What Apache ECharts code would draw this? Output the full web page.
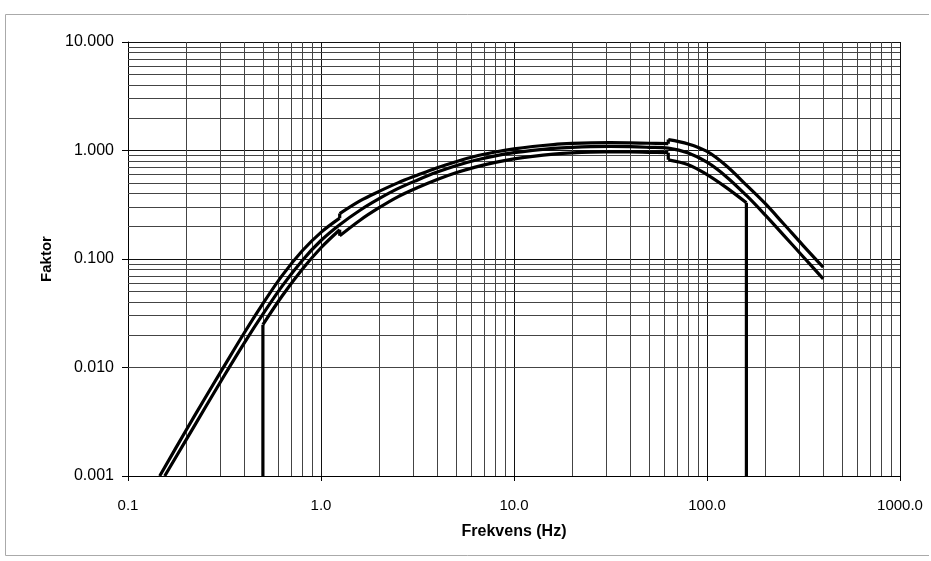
<!DOCTYPE html>
<html>
<head>
<meta charset="utf-8">
<script src="https://cdn.jsdelivr.net/npm/echarts@6/dist/echarts.min.js"></script>
<style>
  html, body { margin: 0; padding: 0; background: #fff; }
  #chart { width: 931px; height: 561px; }
</style>
</head>
<body>
<div id="chart"></div>
<script>
// upper tolerance curve, three pieces (steps at 1.25 Hz and 63 Hz)
const upperLow = [[0.146, 0.001], [0.2, 0.00264], [0.25, 0.00518], [0.315, 0.0103], [0.4, 0.0208],
  [0.5, 0.0388], [0.63, 0.0706], [0.8, 0.119], [1.0, 0.176], [1.25, 0.238]]
const upperMid = [[1.25, 0.262], [1.6, 0.345], [2.0, 0.42], [2.5, 0.503], [3.15, 0.592], [4, 0.695],
  [5, 0.789], [6.3, 0.886], [8, 0.969], [10, 1.036], [12.5, 1.089], [16, 1.134], [20, 1.161],
  [25, 1.178], [31.5, 1.183], [40, 1.177], [50, 1.166], [63, 1.155]]
const upperHigh = [[63, 1.26], [80, 1.15], [100, 0.98], [125, 0.73], [160, 0.48], [200, 0.325],
  [250, 0.21], [315, 0.133], [400, 0.084]]

// nominal curve
const nominal = [[0.155, 0.001], [0.2, 0.00215], [0.25, 0.00421], [0.315, 0.0084], [0.4, 0.0168],
  [0.5, 0.031], [0.63, 0.0565], [0.8, 0.097], [1.0, 0.148], [1.25, 0.207], [1.6, 0.283], [2.0, 0.36],
  [2.5, 0.445], [3.15, 0.533], [4, 0.632], [5, 0.724], [6.3, 0.813], [8, 0.893], [10, 0.955],
  [12.5, 1.004], [16, 1.045], [20, 1.07], [25, 1.086], [31.5, 1.09], [40, 1.085], [50, 1.07],
  [63, 1.05], [80, 0.95], [100, 0.78], [125, 0.58], [160, 0.385], [200, 0.255], [250, 0.165],
  [315, 0.105], [400, 0.0655]]

// lower tolerance curve, starts at 0.5 Hz and stops at 160 Hz
const lowerLow = [[0.5, 0.0248], [0.63, 0.0458], [0.8, 0.0805], [1.0, 0.127], [1.25, 0.186]]
const lowerMid = [[1.25, 0.1635], [1.6, 0.229], [2.0, 0.297], [2.5, 0.374], [3.15, 0.453], [4, 0.54],
  [5, 0.623], [6.3, 0.703], [8, 0.777], [10, 0.836], [12.5, 0.883], [16, 0.925], [20, 0.952],
  [25, 0.967], [31.5, 0.97], [40, 0.971], [50, 0.963], [63, 0.955]]
const lowerHigh = [[63, 0.82], [80, 0.74], [100, 0.60], [125, 0.46], [160, 0.33]]

const xMin = 0.1, xMax = 1000
const yMin = 0.001, yMax = 10

const chart = echarts.init(document.getElementById('chart'))

const last = a => a[a.length - 1]
const curve = (data, smooth) => ({
  type: 'line',
  data,
  smooth: smooth ? 0.35 : false,
  showSymbol: false,
  silent: true,
  z: 5,
  lineStyle: { color: '#000', width: 3.2, cap: 'butt', join: 'miter' }
})

// minor grid lines at 2..9 of every decade
const minorX = []
for (let d = xMin; d < xMax * 0.99; d *= 10) {
  for (let k = 2; k <= 9; k++) minorX.push({ xAxis: +(d * k).toPrecision(3) })
}
const minorY = []
for (let d = yMin; d < yMax * 0.99; d *= 10) {
  for (let k = 2; k <= 9; k++) minorY.push({ yAxis: +(d * k).toPrecision(3) })
}

const font = 'Liberation Sans, Arial, sans-serif'

chart.setOption({
  animation: false,
  backgroundColor: '#fff',
  grid: { left: 128, right: 31, top: 42, bottom: 85, outerBoundsMode: 'none' },
  xAxis: {
    type: 'log',
    logBase: 10,
    min: xMin,
    max: xMax,
    name: 'Frekvens (Hz)',
    nameLocation: 'middle',
    nameGap: 48,
    nameTextStyle: { fontFamily: font, fontSize: 16, fontWeight: 'bold', color: '#000' },
    axisLine: { show: true, lineStyle: { color: '#000', width: 1 } },
    axisTick: { show: true, length: 5, lineStyle: { color: '#000' } },
    axisLabel: {
      fontFamily: font,
      fontSize: 15,
      color: '#000',
      margin: 22,
      showMinLabel: true,
      showMaxLabel: true,
      formatter: v => Number(v).toFixed(1)
    },
    splitLine: { show: true, lineStyle: { color: '#111', width: 1 } }
  },
  yAxis: {
    type: 'log',
    logBase: 10,
    min: yMin,
    max: yMax,
    name: 'Faktor',
    nameLocation: 'middle',
    nameGap: 59,
    nameTextStyle: { fontFamily: font, fontSize: 15, fontWeight: 'bold', color: '#000' },
    axisLine: { show: true, lineStyle: { color: '#000', width: 1 } },
    axisTick: { show: true, length: 6, lineStyle: { color: '#000' } },
    axisLabel: {
      fontFamily: font,
      fontSize: 16,
      color: '#000',
      margin: 14,
      showMinLabel: true,
      showMaxLabel: true,
      formatter: v => Number(v).toFixed(3)
    },
    splitLine: { show: true, lineStyle: { color: '#111', width: 1 } }
  },
  // faint outer chart frame (left, top, bottom)
  graphic: [{
    type: 'polyline',
    shape: { points: [[929, 14.5], [5.5, 14.5], [5.5, 555.5], [929, 555.5]] },
    style: { fill: 'none', stroke: '#aaa', lineWidth: 1 },
    silent: true
  }],
  series: [
    {
      type: 'line',
      data: [],
      silent: true,
      z: 1,
      markLine: {
        silent: true,
        symbol: 'none',
        label: { show: false },
        animation: false,
        lineStyle: { color: '#444', width: 1, type: 'solid' },
        data: minorX.concat(minorY)
      }
    },
    curve(upperLow, true),
    curve([last(upperLow), upperMid[0]], false),
    curve(upperMid, true),
    curve([last(upperMid), upperHigh[0]], false),
    curve(upperHigh, true),
    curve(nominal, true),
    curve([[lowerLow[0][0], yMin], lowerLow[0]], false),
    curve(lowerLow, true),
    curve([last(lowerLow), lowerMid[0]], false),
    curve(lowerMid, true),
    curve([last(lowerMid), lowerHigh[0]], false),
    curve(lowerHigh, true),
    curve([last(lowerHigh), [last(lowerHigh)[0], yMin]], false)
  ]
})

window.addEventListener('resize', () => chart.resize())
</script>
</body>
</html>
